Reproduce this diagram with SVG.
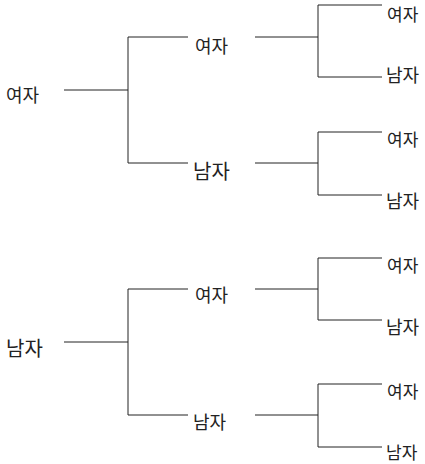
<svg xmlns="http://www.w3.org/2000/svg" width="425" height="464" viewBox="0 0 425 464">
<style>
text{font-family:"Noto Sans CJK KR","Noto Sans",sans-serif;fill:#222;dominant-baseline:central}
.s{font-size:17px}
.m{font-size:18px}
.l{font-size:20px}
#connectors path{fill:none;stroke:#222;stroke-width:1}
</style>
<rect width="425" height="464" fill="#fff"/>
<g id="connectors">
<path d="M64 90H128M128 37V163M128 37H188M128 163H188"/>
<path d="M255 37H318M318 5V77M318 5H382M318 77H382"/>
<path d="M255 163H318M318 132V195M318 132H382M318 195H382"/>
<path d="M64 342H128M128 289V415M128 289H188M128 415H188"/>
<path d="M255 289H318M318 258V320M318 258H382M318 320H382"/>
<path d="M255 415H318M318 384V447M318 384H382M318 447H382"/>
</g>
<g id="n-root1"><text class="m" x="6" y="93.5">여자</text></g>
<g id="n-a1"><text class="m" x="195" y="44.5">여자</text></g>
<g id="n-a2"><text class="l" x="193" y="170">남자</text></g>
<g id="n-a1-1"><text class="s" x="387" y="13">여자</text></g>
<g id="n-a1-2"><text class="m" x="386" y="74">남자</text></g>
<g id="n-a2-1"><text class="s" x="387" y="138">여자</text></g>
<g id="n-a2-2"><text class="m" x="386" y="200">남자</text></g>
<g id="n-root2"><text class="l" x="6" y="347.5">남자</text></g>
<g id="n-b1"><text class="m" x="195" y="294">여자</text></g>
<g id="n-b2"><text class="m" x="193" y="421">남자</text></g>
<g id="n-b1-1"><text class="s" x="387" y="264">여자</text></g>
<g id="n-b1-2"><text class="m" x="386" y="326">남자</text></g>
<g id="n-b2-1"><text class="s" x="387" y="390">여자</text></g>
<g id="n-b2-2"><text class="s" x="386" y="451">남자</text></g>
</svg>
